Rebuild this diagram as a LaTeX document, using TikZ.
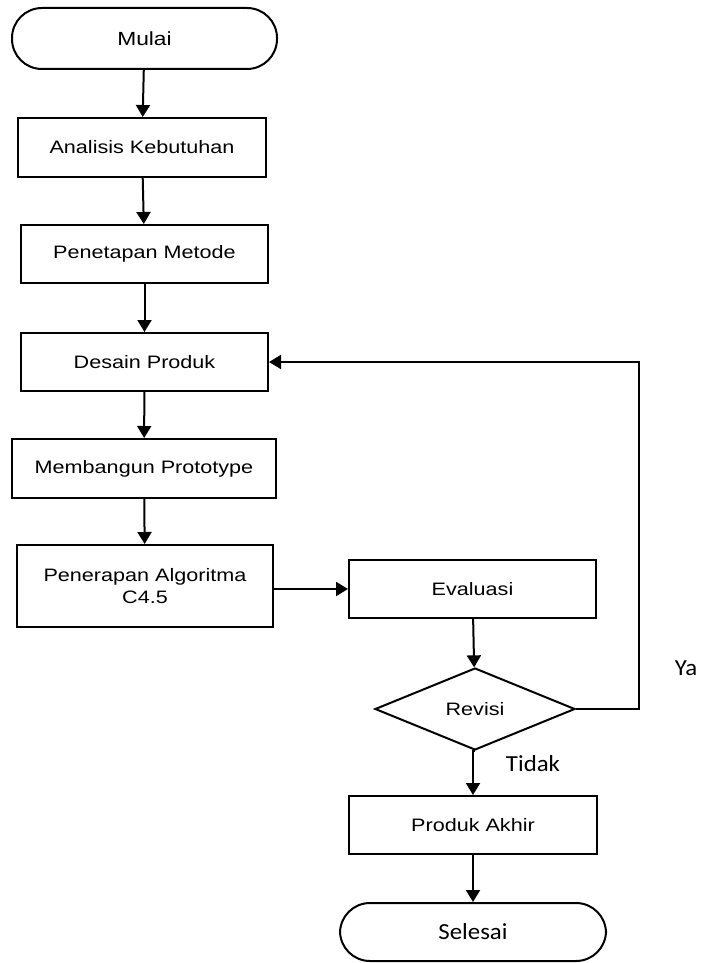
\documentclass[tikz,border=0pt]{standalone}
\usepackage{fontspec}
\setmainfont[FakeStretch=1.2]{Liberation Sans}
\newfontfamily\calib[FakeStretch=1.08]{Carlito}
\usetikzlibrary{shapes.geometric,arrows.meta}
\begin{document}
\begin{tikzpicture}[x=1pt,y=-1pt,
  base/.style={draw=black,line width=2pt,fill=white,inner sep=0pt,align=center,
    font=\fontsize{18}{22}\selectfont},
  procbox/.style={base,rectangle},
  term/.style={base,rectangle,rounded corners=30pt,minimum width=265pt,minimum height=61pt},
  decis/.style={base,diamond,aspect=2.44,minimum width=200pt,minimum height=82pt},
  conn/.style={line width=2pt,-{Triangle[length=12pt,width=14pt]}},
  lbl/.style={font=\calib\fontsize{23}{26}\selectfont,inner sep=0pt}]
\useasboundingbox (0,0) rectangle (702,963);
\node[term,font=\fontsize{19}{22}\selectfont] (mulai) at (144.5,38.5) {Mulai};
\node[procbox,minimum width=248pt,minimum height=59pt] (analisis) at (142,147.5) {Analisis Kebutuhan};
\node[procbox,minimum width=247pt,minimum height=58pt] (penetapan) at (144.5,254) {Penetapan Metode};
\node[procbox,minimum width=247pt,minimum height=58pt] (desain) at (144.5,362) {Desain Produk};
\node[procbox,minimum width=264pt,minimum height=59pt] (membangun) at (144,468.5) {Membangun Prototype};
\node[procbox,minimum width=256pt,minimum height=82pt] (penerapan) at (145,586) {Penerapan Algoritma\\C4.5};
\node[procbox,minimum width=247pt,minimum height=58pt] (evaluasi) at (472.5,589) {Evaluasi};
\node[decis] (revisi) at (475,709) {Revisi};
\node[procbox,minimum width=248pt,minimum height=58pt] (produk) at (473,825) {Produk Akhir};
\node[term,font=\calib\fontsize{23}{26}\selectfont,minimum width=266pt,minimum height=58pt] (selesai) at (473,932) {Selesai};
\coordinate (corner1) at (639,709);
\coordinate (corner2) at (639,362);
\node[lbl] (ya) at (686,668) {Ya};
\node[lbl] (tidak) at (533,764) {Tidak};
\draw[conn] (mulai) -- (analisis);
\draw[conn] (analisis) -- (penetapan);
\draw[conn] (penetapan) -- (desain);
\draw[conn] (desain) -- (membangun);
\draw[conn] (membangun) -- (penerapan);
\draw[conn] (penerapan.east |- evaluasi.west) -- (evaluasi.west);
\draw[conn] (evaluasi) -- (revisi);
\draw[conn] (revisi.south) -- (revisi.south -| produk.north) -- (produk.north);
\draw[conn] (produk) -- (selesai);
\draw[conn,line join=miter] (revisi.east) -- (corner1) -- (corner2) -- (desain.east);
\end{tikzpicture}
\end{document}
